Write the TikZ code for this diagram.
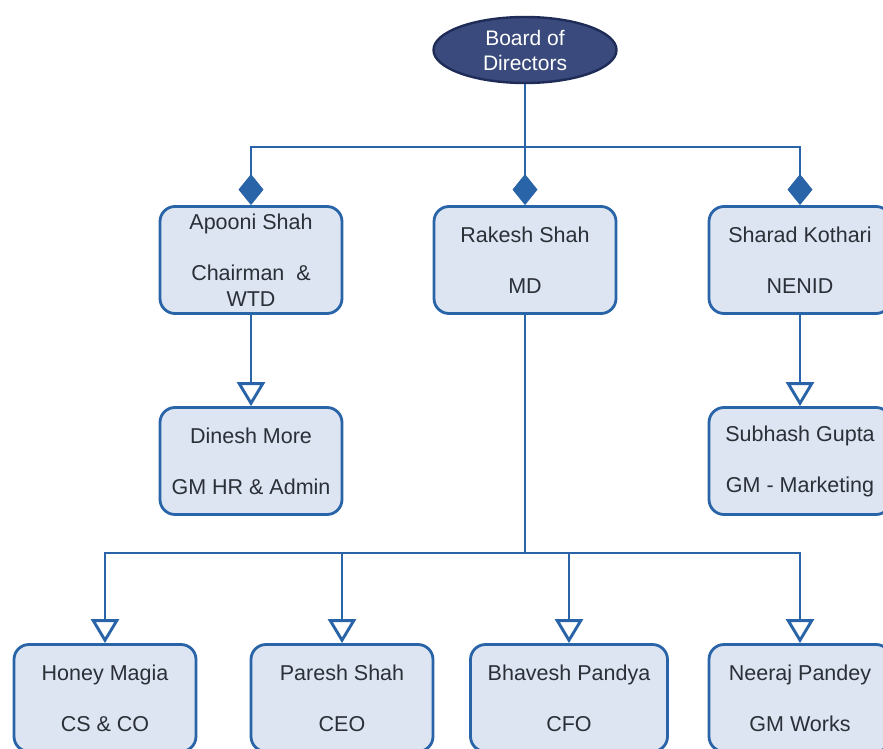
\documentclass[tikz,border=0pt]{standalone}
\usepackage{fontspec}
\setmainfont{Liberation Sans}
\usetikzlibrary{arrows.meta,shapes.geometric,positioning}
\definecolor{linkblue}{HTML}{2A64A8}
\definecolor{boxfill}{HTML}{DCE5F1}
\definecolor{boardfill}{HTML}{3A4A7C}
\definecolor{boardline}{HTML}{1E2C57}
\definecolor{txtgray}{HTML}{2B2F38}
\tikzset{
  person/.style={draw=linkblue, line width=2.8pt, fill=boxfill, rounded corners=15pt,
    minimum width=182pt, minimum height=107pt, align=center, text=txtgray,
    font=\fontsize{21.5}{25.5}\selectfont, inner sep=0pt},
  board/.style={ellipse, draw=boardline, line width=2.4pt, fill=boardfill, text=white,
    minimum width=183pt, minimum height=66pt, align=center, inner sep=0pt,
    font=\fontsize{21}{25}\selectfont},
  link/.style={draw=linkblue, line width=2.9pt},
  owns/.style={link, -{Diamond[length=31pt,width=25pt,fill=linkblue]}},
  reports/.style={link, -{Triangle[open,length=24pt,width=28pt,fill=white]}}
}
\begin{document}
\begin{tikzpicture}[x=1pt,y=-1pt]
  \useasboundingbox (0,0) rectangle (883,749);
  % top of the chart
  \node[board] (bod) at (525,50) {Board of\\Directors};
  \node[person] (apooni) at (251,260) {Apooni Shah\\[25.5pt]Chairman~~\&\\WTD};
  \node[person] (rakesh) at (525,260) {Rakesh Shah\\[25.5pt]MD};
  \node[person] (sharad) at (800,260) {Sharad Kothari\\[25.5pt]NENID};
  % second level
  \node[person] (dinesh) at (251,461) {Dinesh More\\[25.5pt]GM HR \& Admin};
  \node[person] (subhash) at (800,461) {Subhash Gupta\\[25.5pt]GM - Marketing};
  % under the MD
  \node[person] (honey) at (105,698) {Honey Magia\\[25.5pt]CS \& CO};
  \node[person] (paresh) at (342,698) {Paresh Shah\\[25.5pt]CEO};
  \node[person, minimum width=197pt] (bhavesh) at (569,698) {Bhavesh Pandya\\[25.5pt]CFO};
  \node[person] (neeraj) at (800,698) {Neeraj Pandey\\[25.5pt]GM Works};
  \coordinate (topbus) at (525,147);
  \coordinate (mdbus) at (525,553);
  \draw[owns] (bod.south) -- (rakesh.north);
  \draw[owns] (topbus) -| (apooni.north);
  \draw[owns] (topbus) -| (sharad.north);
  \draw[reports] (apooni.south) -- (dinesh.north);
  \draw[reports] (sharad.south) -- (subhash.north);
  \draw[link] (rakesh.south) -- (mdbus);
  \foreach \n in {honey,paresh,bhavesh,neeraj}
    \draw[reports] (mdbus) -| (\n.north);
\end{tikzpicture}
\end{document}
